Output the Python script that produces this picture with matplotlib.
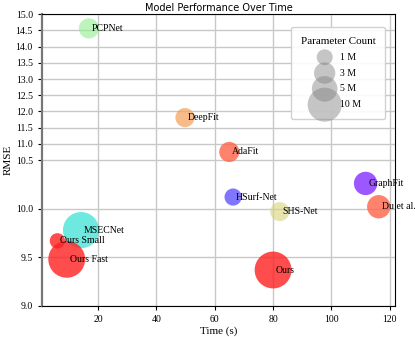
import matplotlib
matplotlib.use('Agg')
import matplotlib.pyplot as plt
import numpy as np

# model name, time (s), RMSE, parameter count (M)
models = ['PCPNet', 'DeepFit', 'AdaFit', 'HSurf-Net', 'SHS-Net', 'GraphFit',
          'Du et al.', 'MSECNet', 'Ours Small', 'Ours Fast', 'Ours']
times = [16.9, 49.8, 65.0, 66.3, 82.3, 111.7, 116.2, 14.2, 6.1, 9.3, 80.0]
rmse = [14.56, 11.81, 10.75, 10.12, 9.97, 10.26, 10.02, 9.78, 9.67, 9.48, 9.37]
params = [2.5, 2.1, 2.5, 1.4, 2.1, 3.9, 3.9, 11.5, 0.8, 12.0, 12.0]
colors = ['#90EE90', '#F4A460', '#FF6347', '#4B3CFF', '#D8D37A', '#7B1FFF',
          '#FF6347', '#30E0D4', '#FF2020', '#FF2020', '#FF2020']
alphas = [0.6, 0.75, 0.8, 0.7, 0.6, 0.75, 0.8, 0.7, 0.8, 0.8, 0.8]

legend_params = [1, 3, 5, 10]
y_ticks = [9.0, 9.5, 10.0, 10.5, 11.0, 11.5, 12.0, 12.5, 13.0, 13.5, 14.0, 14.5, 15.0]


def size_of(p):
    return 80 + 52 * np.asarray(p)


# bottom half of the axis holds 9.0-10.5, top half 10.5-15.0
def fwd(y):
    y = np.asarray(y, dtype=float)
    return np.where(y <= 10.5, (y - 9.0) / 3.0, 0.5 + (y - 10.5) / 9.0)


def inv(v):
    v = np.asarray(v, dtype=float)
    return np.where(v <= 0.5, 9.0 + v * 3.0, 10.5 + (v - 0.5) * 9.0)


plt.rcParams['font.family'] = ['Liberation Serif', 'DejaVu Serif']

fig = plt.figure(figsize=(4.15, 3.37), dpi=100)
ax = fig.add_axes([0.101, 0.092, 0.851, 0.866])
ax.set_yscale('function', functions=(fwd, inv))

ax.grid(True, color='#c8c8c8', linewidth=1.0, zorder=0)
ax.set_axisbelow(True)

for name, x, y, p, c, a in zip(models, times, rmse, params, colors, alphas):
    ax.scatter(x, y, s=size_of(p), color=c, alpha=a, edgecolors='none', zorder=2)
    ax.text(x + 1, y, name, fontsize=7, va='center', ha='left', zorder=3)

ax.set_xlim(0.8, 121.8)
ax.set_ylim(9.0, 15.0)
ax.set_yticks(y_ticks)
ax.set_yticklabels(['{:.1f}'.format(t) for t in y_ticks])
ax.set_xticks([20, 40, 60, 80, 100, 120])
ax.tick_params(labelsize=7, length=3)
ax.spines['left'].set_color('#777777')
ax.spines['left'].set_linewidth(1.6)

ax.set_xlabel('Time (s)', fontsize=8, labelpad=2)
ax.set_ylabel('RMSE', fontsize=8, labelpad=2)
ax.set_title('Model Performance Over Time', fontsize=7, family='DejaVu Sans', pad=2)

handles = [ax.scatter([], [], s=size_of(p), color='gray', alpha=0.45, edgecolors='none')
           for p in legend_params]
leg = ax.legend(handles, ['{} M'.format(p) for p in legend_params],
                title='Parameter Count', loc='upper right', fontsize=7,
                title_fontsize=8, labelspacing=0.7, borderpad=1.0,
                handletextpad=0.6, borderaxespad=0,
                bbox_to_anchor=(0.972, 0.955), framealpha=0.9)

fig.savefig('out.png', dpi=100)
